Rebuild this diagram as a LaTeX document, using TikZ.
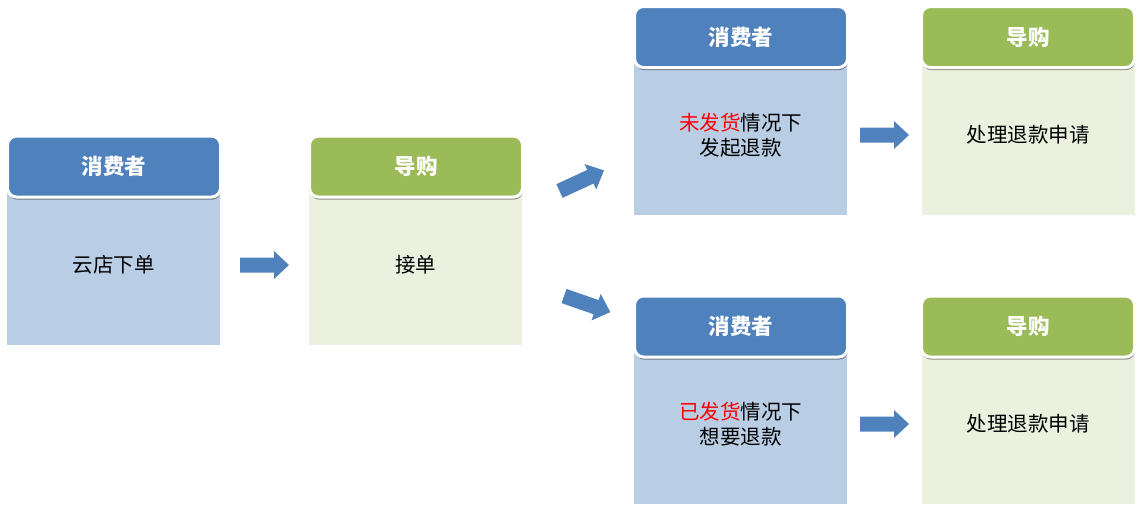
\documentclass[tikz,border=0pt]{standalone}
\usepackage{fontspec}
\setmainfont{Noto Sans CJK SC}
\usetikzlibrary{shadows}
\definecolor{hblue}{HTML}{4F81BD}
\definecolor{hgreen}{HTML}{9BBB59}
\definecolor{bblue}{HTML}{B9CDE5}
\definecolor{bgreen}{HTML}{EBF1DE}
\definecolor{txtred}{HTML}{FF0000}
\tikzset{
  bodybox/.style={minimum width=213pt, minimum height=159pt, inner sep=0pt, align=center,
    font=\fontsize{20.5pt}{24.5pt}\selectfont, text=black},
  bodyblue/.style={bodybox, fill=bblue},
  bodygreen/.style={bodybox, fill=bgreen},
  headbox/.style={minimum width=213pt, minimum height=61pt, inner sep=0pt, rounded corners=9pt,
    draw=white, line width=3pt, text=white, font=\fontsize{21.5pt}{24pt}\selectfont\bfseries,
    drop shadow={shadow xshift=0.6pt, shadow yshift=-2.6pt, opacity=0.4, fill=black}},
  headblue/.style={headbox, fill=hblue},
  headgreen/.style={headbox, fill=hgreen},
  blockarrow/.pic={\fill[hblue] (0,-7.5) -- (34,-7.5) -- (34,-14) -- (49,0) -- (34,14) -- (34,7.5) -- (0,7.5) -- cycle;}
}
\begin{document}
\begin{tikzpicture}[x=1pt, y=-1pt]
\useasboundingbox (0,0) rectangle (1142,504);
% bodies
\node[bodyblue]  (b1) at (113.5,265) {云店下单};
\node[bodygreen] (b2) at (415.5,265) {接单};
\node[bodyblue]  (b3) at (740.5,135) {\textcolor{txtred}{未发货}情况下\\发起退款};
\node[bodygreen] (b4) at (1028,135) {处理退款申请};
\node[bodyblue]  (b5) at (740.5,424) {\textcolor{txtred}{已发货}情况下\\想要退款};
\node[bodygreen] (b6) at (1028,424) {处理退款申请};
% headers
\node[headblue]  (h1) at (114,166.5) {消费者};
\node[headgreen] (h2) at (416,166.5) {导购};
\node[headblue]  (h3) at (741,37) {消费者};
\node[headgreen] (h4) at (1028,37) {导购};
\node[headblue]  (h5) at (741,326.5) {消费者};
\node[headgreen] (h6) at (1028,326.5) {导购};
% block arrows
\coordinate (a1) at (240,265);
\coordinate (a2) at (860,135);
\coordinate (a3) at (860,424);
\coordinate (a4) at (559.5,191);
\coordinate (a5) at (564,296);
\pic at (a1) {blockarrow};
\pic at (a2) {blockarrow};
\pic at (a3) {blockarrow};
\pic[rotate=24.8] at (a4) {blockarrow};
\pic[rotate=-19.2] at (a5) {blockarrow};
\end{tikzpicture}
\end{document}
